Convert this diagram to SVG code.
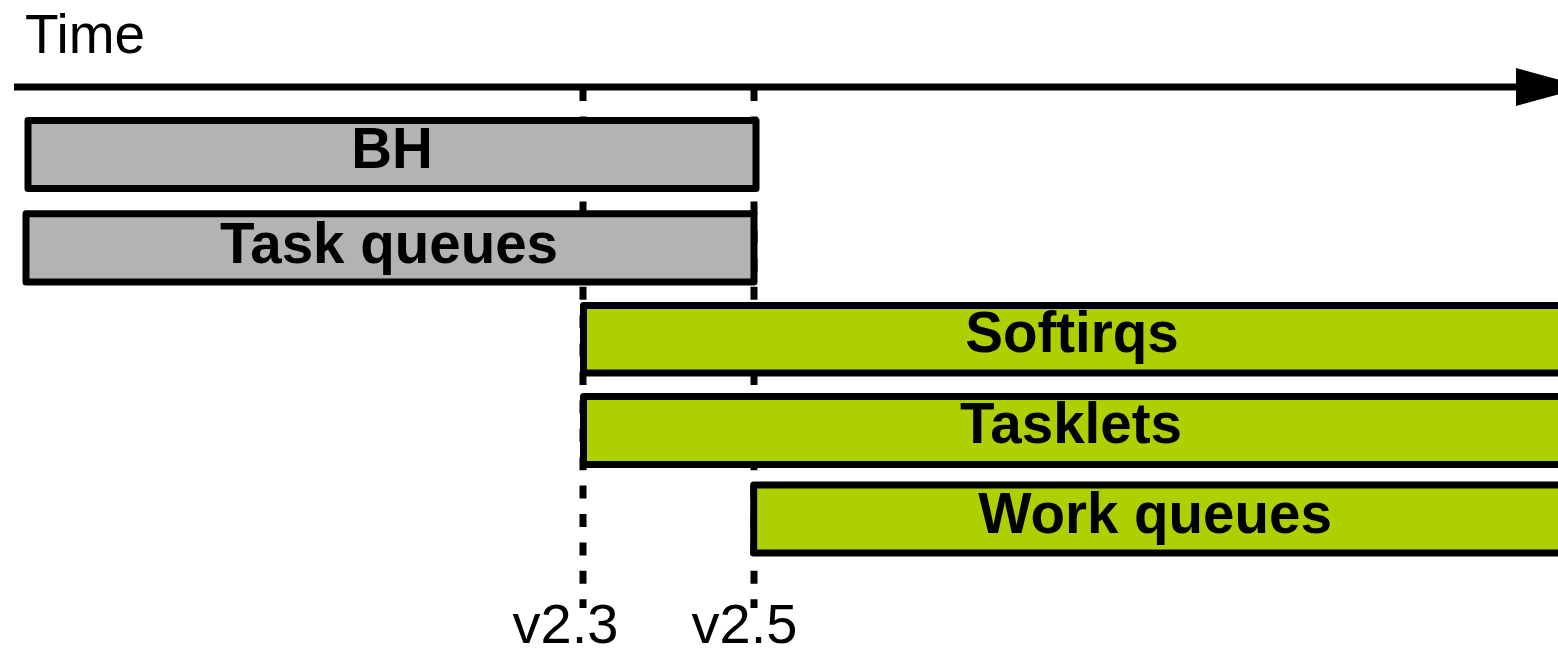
<svg xmlns="http://www.w3.org/2000/svg" width="1558" height="649" viewBox="0 0 1558 649">
  <style>
    .box { stroke: #000; stroke-width: 7; stroke-linejoin: round; }
    .old { fill: #b3b3b3; }
    .new { fill: #aecf00; }
    .lbl { font-family: "Liberation Sans", Arial, sans-serif; font-weight: bold; font-size: 56.5px; text-anchor: middle; fill: #000; }
    .ver { font-family: "Liberation Sans", Arial, sans-serif; font-size: 56px; text-anchor: middle; fill: #000; }
    .dash { stroke: #000; stroke-width: 7; stroke-dasharray: 13 15.4; fill: none; }
  </style>
  <rect width="1558" height="649" fill="#fff"/>
  <g id="connectors">
    <line class="dash" x1="583" y1="88" x2="583" y2="608"/>
    <line class="dash" x1="754" y1="88" x2="754" y2="608"/>
    <line x1="14" y1="87" x2="1520" y2="87" stroke="#000" stroke-width="7"/>
    <polygon points="1516,68 1585,87 1516,106" fill="#000"/>
  </g>
  <text x="25" y="53" font-family="Liberation Sans, Arial, sans-serif" font-size="55" fill="#000">Time</text>
  <g id="bh">
    <rect class="box old" x="28" y="120.5" width="728" height="68"/>
    <text class="lbl" x="392" y="168">BH</text>
  </g>
  <g id="taskqueues">
    <rect class="box old" x="26" y="213.7" width="728" height="68.3"/>
    <text class="lbl" x="389" y="263">Task queues</text>
  </g>
  <g id="softirqs">
    <rect class="box new" x="583.5" y="305.5" width="1000" height="67.5"/>
    <text class="lbl" x="1072" y="352">Softirqs</text>
  </g>
  <g id="tasklets">
    <rect class="box new" x="583.5" y="396.5" width="1000" height="68"/>
    <text class="lbl" x="1071" y="443">Tasklets</text>
  </g>
  <g id="workqueues">
    <rect class="box new" x="753.7" y="485" width="900" height="68"/>
    <text class="lbl" x="1155" y="533">Work queues</text>
  </g>
  <g id="v23"><text class="ver" x="565.5" y="643">v2.3</text></g>
  <g id="v25"><text class="ver" x="744.5" y="643">v2.5</text></g>
</svg>
